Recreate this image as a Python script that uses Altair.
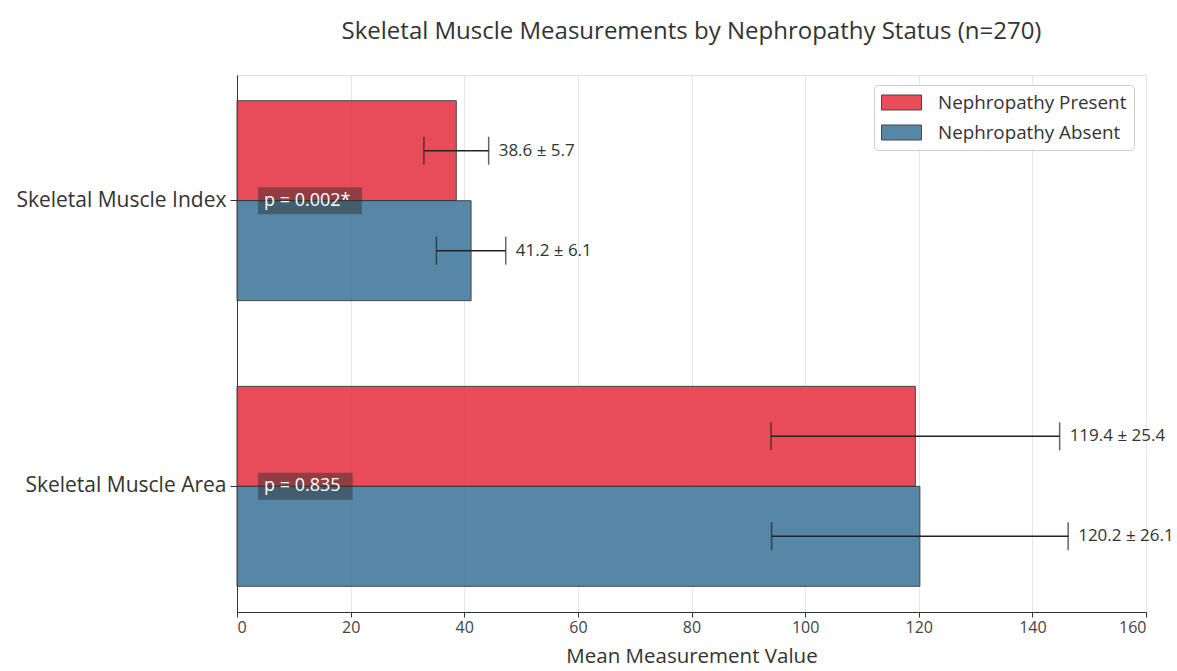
import altair as alt
import pandas as pd

# Measurements (mean ± SD) per muscle metric and nephropathy group
categories = ["Skeletal Muscle Index", "Skeletal Muscle Area"]
groups = ["Nephropathy Present", "Nephropathy Absent"]
present_mean = [38.6, 119.4]
present_sd = [5.7, 25.4]
absent_mean = [41.2, 120.2]
absent_sd = [6.1, 26.1]
p_labels = ["p = 0.002*", "p = 0.835"]
x_ticks = [0, 20, 40, 60, 80, 100, 120, 140, 160]

colors = ["#E63946", "#457B9D"]
FONT = "Open Sans"

rows = []
for i, cat in enumerate(categories):
    for g, m, s in ((groups[0], present_mean[i], present_sd[i]),
                    (groups[1], absent_mean[i], absent_sd[i])):
        rows.append({
            "category": cat, "group": g, "mean": m, "sd": s,
            "lo": m - s, "hi": m + s, "label": f"{m:.1f} ± {s:.1f}",
        })
bars_df = pd.DataFrame(rows)

# p-value annotation boxes, sized from the label length (in axis units)
W, H = 909, 537
units_per_px = 160 / W
p_df = pd.DataFrame({
    "category": categories,
    "p": p_labels,
    "box_x0": [21 * units_per_px] * len(categories),
    "box_x1": [(21 + 10 + len(t) * 9.4) * units_per_px for t in p_labels],
})

y_enc = alt.Y(
    "category:N", sort=categories,
    scale=alt.Scale(paddingInner=0.3, paddingOuter=0.09),
    axis=alt.Axis(title=None, labelFontSize=21, labelColor="#333", labelPadding=4,
                  tickSize=7, tickColor="#333", domainColor="#333", grid=False,
                  labelFont=FONT, labelLimit=0),
)
yoff = alt.YOffset("group:N", sort=groups,
                   scale=alt.Scale(paddingInner=0, paddingOuter=0))
x_scale = alt.Scale(domain=[0, 160], nice=False)
x_enc = alt.X(
    "mean:Q", scale=x_scale,
    axis=alt.Axis(values=x_ticks, title="Mean Measurement Value", titleFontSize=20.5,
                  titleFontWeight="normal", titleColor="#333", titlePadding=11,
                  labelFontSize=16, labelColor="#444", tickSize=5, tickColor="#333",
                  domainColor="#333", grid=True, gridColor="#e6e6e6",
                  labelFont=FONT, titleFont=FONT),
)

legend_symbol = "M-1,-0.75L3,-0.75L3,0.75L-1,0.75Z"

bars = alt.Chart(bars_df).mark_bar(stroke="#333", strokeWidth=1, opacity=0.9).encode(
    x=x_enc,
    y=y_enc,
    yOffset=yoff,
    color=alt.Color(
        "group:N", sort=groups,
        scale=alt.Scale(domain=groups, range=colors),
        legend=alt.Legend(
            title=None, orient="none", legendX=637, legendY=10,
            symbolType=legend_symbol, symbolSize=400, symbolStrokeColor="#333",
            symbolStrokeWidth=1, symbolOpacity=0.9, labelOffset=36,
            labelFontSize=18.8, labelColor="#333", labelFont=FONT, labelLimit=0,
            rowPadding=9, padding=7, strokeColor="#cccccc", fillColor="white",
            cornerRadius=4,
        ),
    ),
)

err = alt.Chart(bars_df).mark_rule(color="#222", strokeWidth=1.5).encode(
    x=alt.X("lo:Q", scale=x_scale), x2="hi:Q", y=y_enc, yOffset=yoff,
)
cap_lo = alt.Chart(bars_df).mark_tick(color="#222", thickness=1.5, size=28).encode(
    x=alt.X("lo:Q", scale=x_scale), y=y_enc, yOffset=yoff,
)
cap_hi = alt.Chart(bars_df).mark_tick(color="#222", thickness=1.5, size=28).encode(
    x=alt.X("hi:Q", scale=x_scale), y=y_enc, yOffset=yoff,
)
values = alt.Chart(bars_df).mark_text(
    align="left", baseline="middle", dx=10, fontSize=17, color="#333", font=FONT
).encode(
    x=alt.X("hi:Q", scale=x_scale), y=y_enc, yOffset=yoff, text="label:N",
)

p_box = alt.Chart(p_df).mark_bar(height=27, fill="#2a2a2a", opacity=0.45).encode(
    x=alt.X("box_x0:Q", scale=x_scale), x2="box_x1:Q", y=y_enc,
)
p_text = alt.Chart(p_df).mark_text(
    align="left", baseline="middle", dx=6, fontSize=18, color="white", font=FONT
).encode(
    x=alt.X("box_x0:Q", scale=x_scale), y=y_enc, text="p:N",
)

chart = alt.layer(bars, err, cap_lo, cap_hi, values, p_box, p_text).properties(
    width=W, height=H,
    title=alt.TitleParams(
        "Skeletal Muscle Measurements by Nephropathy Status (n=270)",
        fontSize=24, fontWeight="normal", color="#333", font=FONT,
        anchor="middle", frame="group", offset=31,
    ),
    autosize=alt.AutoSizeParams(type="none"),
    padding={"left": 237, "top": 75, "right": 31, "bottom": 59},
).configure_view(stroke=None).configure(background="white")

chart.save("out.html", embed_options={"renderer": "svg", "actions": False})
